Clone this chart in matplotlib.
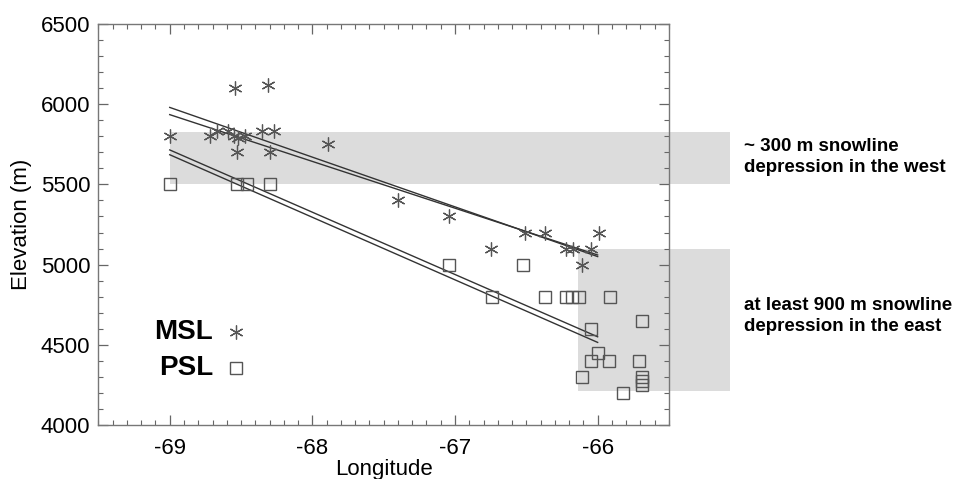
import matplotlib.pyplot as plt
from matplotlib.patches import Rectangle

plt.rcParams['font.family'] = ['Liberation Sans', 'DejaVu Sans']
plt.rcParams['axes.unicode_minus'] = False

# MSL points (asterisks)
msl_lon = [-69.0, -68.72, -68.67, -68.59, -68.54, -68.55, -68.52, -68.47, -68.53,
           -68.35, -68.31, -68.27, -68.30, -67.89, -67.40, -67.04, -66.51, -66.37,
           -65.99, -66.75, -66.22, -66.17, -66.05, -66.11]
msl_elev = [5800, 5800, 5830, 5830, 6100, 5800, 5790, 5800, 5700,
            5830, 6120, 5830, 5700, 5750, 5400, 5300, 5200, 5200,
            5200, 5100, 5100, 5100, 5100, 5000]

# PSL points (squares)
psl_lon = [-69.0, -68.53, -68.46, -68.30, -67.04, -66.52, -66.74, -66.37, -66.22,
           -66.18, -66.13, -65.91, -65.69, -66.05, -66.0, -66.05, -65.92, -65.71,
           -66.11, -65.69, -65.69, -65.69, -65.82]
psl_elev = [5500, 5500, 5500, 5500, 5000, 5000, 4800, 4800, 4800,
            4800, 4800, 4800, 4650, 4600, 4450, 4400, 4400, 4400,
            4300, 4300, 4275, 4250, 4200]

# regression lines (two per set)
fit_lon = [-69.0, -66.0]
msl_fit_a = [5980, 5050]
msl_fit_b = [5935, 5060]
psl_fit_a = [5715, 4550]
psl_fit_b = [5685, 4515]

# shaded bands: (lon0, lon1, elev0, elev1)
west_band = (-69.0, -65.07, 5500, 5825)
east_band = (-66.14, -65.07, 4210, 5100)

fig = plt.figure(figsize=(9.62, 4.79), dpi=100)
ax = fig.add_axes([0.1023, 0.1127, 0.5931, 0.8372])

for x0, x1, y0, y1 in [west_band, east_band]:
    ax.add_patch(Rectangle((x0, y0), x1 - x0, y1 - y0, facecolor='#dcdcdc',
                           edgecolor='none', clip_on=False, zorder=0))

for ys in [msl_fit_a, msl_fit_b, psl_fit_a, psl_fit_b]:
    ax.plot(fit_lon, ys, color='#333333', lw=1.0, zorder=2)

ax.plot(msl_lon, msl_elev, ls='none', marker=(6, 2, 0), ms=10, mec='#555555',
        mew=0.9, zorder=3)
ax.plot(psl_lon, psl_elev, ls='none', marker='s', ms=8, mfc='none',
        mec='#555555', mew=1.0, zorder=3)

# legend-like labels
ax.text(0.201, 0.233, 'MSL', transform=ax.transAxes, ha='right', va='center',
        fontsize=20, fontweight='bold')
ax.text(0.201, 0.141, 'PSL', transform=ax.transAxes, ha='right', va='center',
        fontsize=20, fontweight='bold')
ax.plot([0.242], [0.233], transform=ax.transAxes, ls='none', marker=(6, 2, 0),
        ms=10, mec='#555555', mew=0.9)
ax.plot([0.242], [0.141], transform=ax.transAxes, ls='none', marker='s', ms=8,
        mfc='none', mec='#555555', mew=1.0)

# annotations right of the plot
fig.text(744 / 962, 1 - 157 / 479, '~ 300 m snowline\ndepression in the west',
         ha='left', va='center', fontsize=13.5, fontweight='bold', linespacing=1.25)
fig.text(744 / 962, 1 - 316 / 479, 'at least 900 m snowline\ndepression in the east',
         ha='left', va='center', fontsize=13.5, fontweight='bold', linespacing=1.25)

ax.set_xlim(-69.5, -65.5)
ax.set_ylim(4000, 6500)
ax.set_xticks([-69, -68, -67, -66])
ax.set_xticks([x / 10 for x in range(-695, -654)], minor=True)
ax.set_yticks([4000, 4500, 5000, 5500, 6000, 6500])
ax.set_yticks(list(range(4000, 6501, 100)), minor=True)
ax.tick_params(which='both', direction='in', top=True, right=True,
               color='#666666', labelsize=16)
ax.tick_params(axis='x', pad=9)
ax.tick_params(axis='y', pad=6)
ax.tick_params(which='major', length=7, width=0.9)
ax.tick_params(which='minor', length=3.5, width=0.8)
for s in ax.spines.values():
    s.set_color('#777777')
    s.set_linewidth(1.0)

ax.set_xlabel('Longitude', fontsize=16, labelpad=0)
ax.set_ylabel('Elevation (m)', fontsize=16, labelpad=6)

plt.savefig('out.png', dpi=100)
